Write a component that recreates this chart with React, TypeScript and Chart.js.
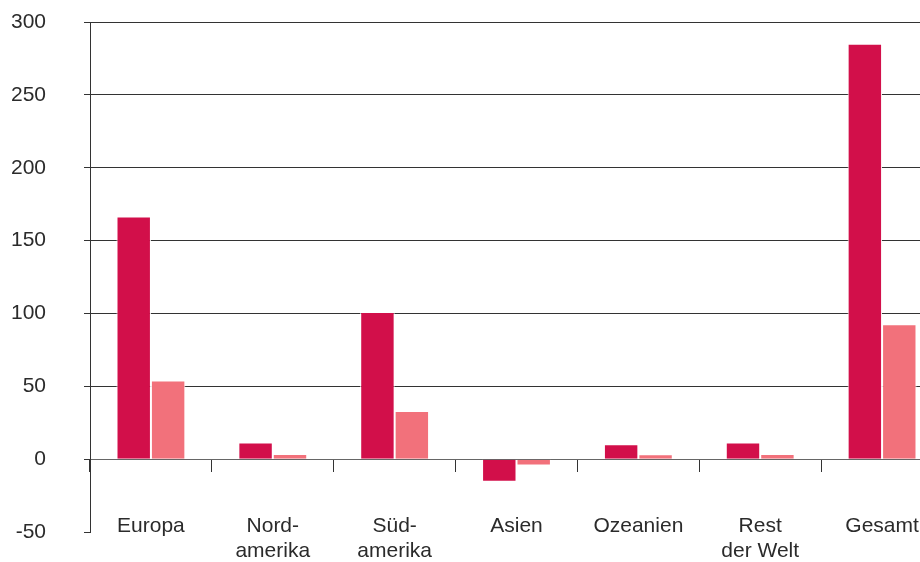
import { useEffect, useRef } from "react";
import { Chart, registerables } from "chart.js";

Chart.register(...registerables);

const categories: string[][] = [
  ["Europa"],
  ["Nord-", "amerika"],
  ["Süd-", "amerika"],
  ["Asien"],
  ["Ozeanien"],
  ["Rest", "der Welt"],
  ["Gesamt"],
];
const seriesDark = [166.5, 11.5, 101, -15.5, 10.3, 11.5, 285];
const seriesLight = [54, 3.6, 33, -4.3, 3.4, 3.6, 92.5];
const yMin = -50;
const yMax = 300;
const yStep = 50;

const DARK = "#D20F4A";
const LIGHT = "#F2717B";
const TEXT = "#2b2b2b";
const FONT = "'Liberation Sans', Arial, sans-serif";

export default function App() {
  const ref = useRef<HTMLCanvasElement | null>(null);

  useEffect(() => {
    document.body.style.margin = "0";
    document.body.style.overflow = "hidden";
    const canvas = ref.current;
    if (!canvas) return;
    const chart = new Chart(canvas, {
      type: "bar",
      data: {
        labels: categories,
        datasets: [
          {
            data: seriesDark,
            backgroundColor: DARK,
            borderColor: "#ffffff",
            borderWidth: 1,
            categoryPercentage: 0.565,
            barPercentage: 1,
          },
          {
            data: seriesLight,
            backgroundColor: LIGHT,
            borderColor: "#ffffff",
            borderWidth: 1,
            categoryPercentage: 0.565,
            barPercentage: 1,
          },
        ],
      },
      options: {
        animation: false,
        responsive: false,
        devicePixelRatio: 1,
        layout: { padding: { top: 22, bottom: 30, left: 0, right: 2 } },
        plugins: {
          legend: { display: false },
          tooltip: { enabled: false },
          title: { display: false },
        },
        scales: {
          x: {
            position: { y: 0 },
            z: 1,
            offset: true,
            afterFit: (scale: any) => {
              scale.paddingLeft = 0;
              scale.paddingRight = 0;
            },
            grid: {
              offset: true,
              drawOnChartArea: false,
              drawTicks: true,
              tickLength: 12,
              tickColor: "#333333",
              tickWidth: 1,
            },
            border: { display: true, color: "#666666", width: 1 },
            ticks: {
              color: TEXT,
              font: { family: FONT, size: 21, lineHeight: 1.2 },
              padding: 42,
              maxRotation: 0,
              autoSkip: false,
            },
          },
          y: {
            min: yMin,
            max: yMax,
            afterFit: (scale: any) => {
              scale.width = 90;
              scale.paddingTop = 0;
              scale.paddingBottom = 0;
            },
            grid: {
              color: (ctx: any) =>
                ctx.tick && ctx.tick.value === yMin
                  ? "rgba(0,0,0,0)"
                  : ctx.tick && ctx.tick.value === 0
                  ? "#666666"
                  : "#333333",
              tickColor: "#333333",
              tickLength: 6,
              lineWidth: 1,
            },
            border: { display: true, color: "#333333", width: 1 },
            ticks: {
              stepSize: yStep,
              color: TEXT,
              font: { family: FONT, size: 21 },
              padding: 38,
            },
          },
        },
      },
    });
    return () => chart.destroy();
  }, []);

  return (
    <div style={{ width: 920, height: 562, overflow: "hidden", position: "relative" }}>
      <canvas ref={ref} width={945} height={562} style={{ display: "block" }} />
    </div>
  );
}
